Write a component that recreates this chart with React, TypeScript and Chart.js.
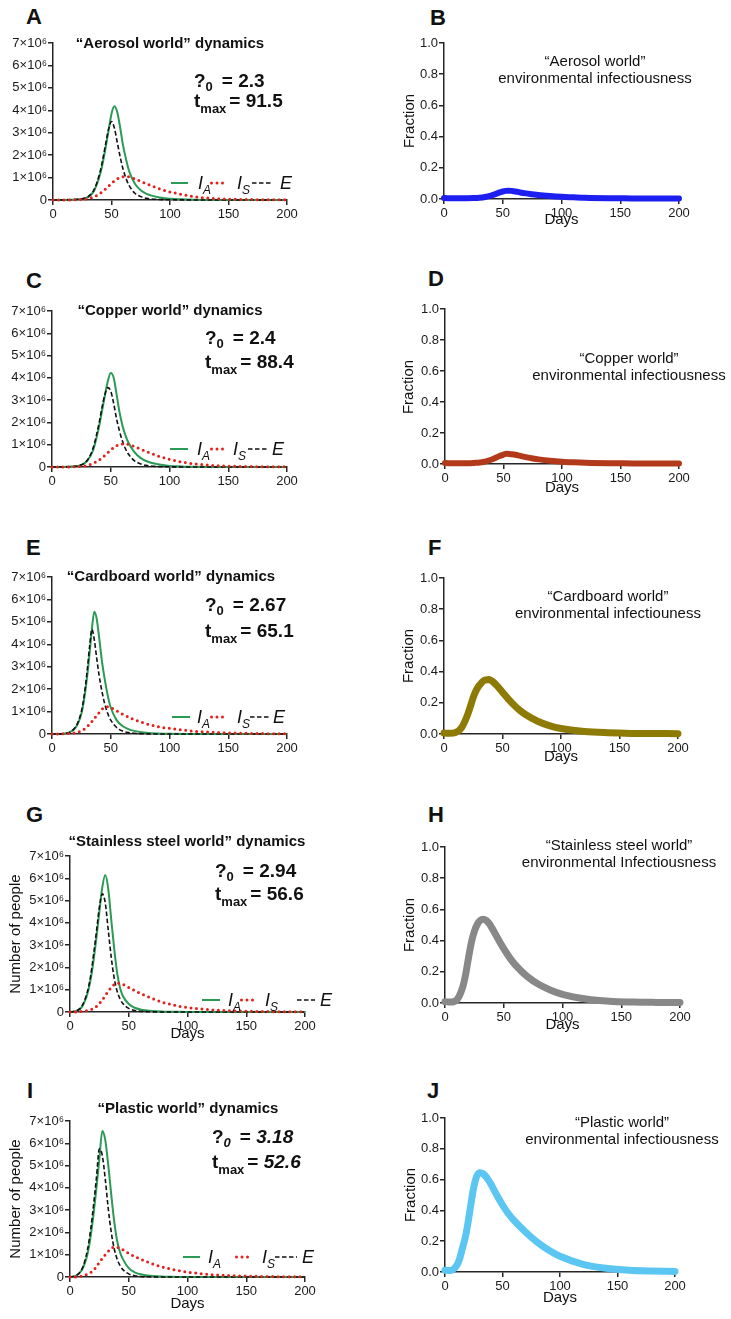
import React, { useEffect, useRef } from "react";
import { Chart, registerables } from "chart.js";
Chart.register(...registerables);

const FONT = '"Liberation Sans", Arial, Helvetica, sans-serif';

// ---------------- data (people in millions, fraction 0..1) ----------------
const aerosolDays = [0, 10, 20, 25, 30, 35, 40, 42.5, 45, 47.5, 50, 52.5, 55, 57.5, 60, 62.5, 65, 70, 75, 80, 90, 100, 110, 120, 140, 160, 180, 200];
const aerosolIA = [0, 0.005, 0.02, 0.05, 0.13, 0.4, 1.1, 1.65, 2.35, 3.1, 3.85, 4.18, 3.9, 3.2, 2.4, 1.8, 1.3, 0.72, 0.43, 0.27, 0.12, 0.055, 0.028, 0.015, 0.005, 0.002, 0.001, 0];
const aerosolE = [0, 0.005, 0.025, 0.06, 0.15, 0.45, 1.2, 1.8, 2.5, 3.15, 3.5, 3.2, 2.55, 1.9, 1.35, 0.95, 0.65, 0.3, 0.15, 0.075, 0.025, 0.01, 0.005, 0.002, 0, 0, 0, 0];
const aerosolIS = [0, 0.002, 0.01, 0.025, 0.06, 0.14, 0.29, 0.39, 0.5, 0.62, 0.74, 0.85, 0.94, 1.0, 1.04, 1.05, 1.03, 0.94, 0.83, 0.72, 0.52, 0.36, 0.25, 0.15, 0.06, 0.028, 0.013, 0.006];
const aerosolEnv = [0.006, 0.005, 0.005, 0.006, 0.008, 0.013, 0.022, 0.028, 0.035, 0.042, 0.048, 0.052, 0.053, 0.052, 0.049, 0.046, 0.042, 0.036, 0.031, 0.026, 0.019, 0.014, 0.011, 0.008, 0.005, 0.004, 0.003, 0.003];

const copperDays = [0, 10, 20, 25, 30, 35, 40, 42.5, 45, 47.5, 50, 52.5, 55, 57.5, 60, 62.5, 65, 70, 75, 80, 90, 100, 110, 120, 140, 160, 180, 200];
const copperIA = [0, 0.005, 0.03, 0.09, 0.27, 0.75, 1.8, 2.5, 3.2, 3.85, 4.22, 4.0, 3.25, 2.45, 1.85, 1.42, 1.1, 0.68, 0.42, 0.27, 0.12, 0.05, 0.025, 0.013, 0.004, 0.001, 0, 0];
const copperE = [0, 0.005, 0.03, 0.1, 0.3, 0.85, 1.95, 2.65, 3.25, 3.56, 3.4, 2.85, 2.15, 1.6, 1.15, 0.82, 0.58, 0.29, 0.15, 0.075, 0.022, 0.008, 0.003, 0.001, 0, 0, 0, 0];
const copperIS = [0, 0.002, 0.012, 0.03, 0.07, 0.16, 0.31, 0.41, 0.52, 0.64, 0.76, 0.87, 0.95, 1.0, 1.03, 1.03, 1.01, 0.92, 0.81, 0.7, 0.5, 0.34, 0.23, 0.15, 0.062, 0.027, 0.012, 0.005];
const copperEnv = [0.006, 0.005, 0.005, 0.007, 0.01, 0.017, 0.029, 0.037, 0.046, 0.054, 0.061, 0.066, 0.065, 0.063, 0.06, 0.056, 0.051, 0.043, 0.036, 0.03, 0.021, 0.015, 0.011, 0.008, 0.005, 0.004, 0.003, 0.003];

const cardboardDays = [0, 5, 10, 15, 20, 22.5, 25, 27.5, 30, 32, 34, 36, 38, 40, 42.5, 45, 47.5, 50, 55, 60, 65, 70, 80, 90, 100, 120, 140, 160, 180, 200];
const cardboardIA = [0, 0.003, 0.015, 0.07, 0.28, 0.52, 0.9, 1.6, 2.6, 3.6, 4.7, 5.45, 5.15, 4.35, 3.25, 2.4, 1.7, 1.18, 0.62, 0.36, 0.22, 0.14, 0.06, 0.025, 0.012, 0.003, 0.001, 0, 0, 0];
const cardboardE = [0, 0.003, 0.016, 0.08, 0.31, 0.58, 1.0, 1.75, 2.85, 3.9, 4.67, 4.2, 3.4, 2.65, 1.9, 1.32, 0.9, 0.62, 0.29, 0.13, 0.06, 0.03, 0.008, 0.002, 0, 0, 0, 0, 0, 0];
const cardboardIS = [0, 0.002, 0.008, 0.025, 0.05, 0.09, 0.14, 0.22, 0.33, 0.44, 0.56, 0.69, 0.82, 0.95, 1.1, 1.2, 1.21, 1.17, 1.03, 0.89, 0.76, 0.64, 0.46, 0.33, 0.25, 0.13, 0.068, 0.034, 0.018, 0.01];
const cardboardEnv = [0.006, 0.005, 0.01, 0.04, 0.12, 0.175, 0.235, 0.28, 0.31, 0.328, 0.342, 0.347, 0.35, 0.344, 0.33, 0.312, 0.29, 0.268, 0.224, 0.185, 0.151, 0.123, 0.082, 0.054, 0.035, 0.016, 0.008, 0.004, 0.003, 0.002];

const steelDays = [0, 5, 10, 15, 17.5, 20, 22.5, 25, 27.5, 30, 32.5, 35, 37.5, 40, 42.5, 45, 50, 55, 60, 70, 80, 90, 100, 120, 140, 160, 180, 200];
const steelIA = [0, 0.04, 0.22, 0.85, 1.45, 2.3, 3.35, 4.5, 5.6, 6.15, 5.55, 4.2, 2.9, 1.8, 1.1, 0.72, 0.36, 0.19, 0.11, 0.04, 0.015, 0.006, 0.002, 0.001, 0, 0, 0, 0];
const steelE = [0, 0.05, 0.25, 0.95, 1.6, 2.55, 3.6, 4.7, 5.3, 4.9, 3.7, 2.5, 1.55, 0.95, 0.6, 0.38, 0.16, 0.07, 0.03, 0.008, 0.002, 0, 0, 0, 0, 0, 0, 0];
const steelIS = [0, 0.005, 0.03, 0.06, 0.1, 0.16, 0.25, 0.38, 0.54, 0.74, 0.93, 1.09, 1.22, 1.29, 1.28, 1.24, 1.1, 0.96, 0.83, 0.61, 0.42, 0.29, 0.2, 0.1, 0.05, 0.025, 0.012, 0.006];
const steelEnv = [0.008, 0.006, 0.02, 0.1, 0.18, 0.29, 0.39, 0.46, 0.505, 0.53, 0.537, 0.53, 0.51, 0.48, 0.447, 0.413, 0.348, 0.291, 0.243, 0.17, 0.118, 0.082, 0.056, 0.026, 0.011, 0.006, 0.004, 0.003];

const plasticDays = [0, 5, 10, 12.5, 15, 17.5, 20, 22.5, 25, 27.5, 30, 32.5, 35, 37.5, 40, 42.5, 45, 50, 55, 60, 70, 80, 90, 100, 120, 140, 160, 180, 200];
const plasticIA = [0, 0.05, 0.3, 0.6, 1.05, 1.8, 2.8, 4.0, 5.3, 6.55, 6.15, 5.05, 3.75, 2.55, 1.65, 1.12, 0.8, 0.4, 0.21, 0.12, 0.04, 0.014, 0.005, 0.002, 0, 0, 0, 0, 0];
const plasticE = [0, 0.06, 0.34, 0.7, 1.25, 2.1, 3.2, 4.45, 5.75, 5.45, 4.4, 3.1, 2.05, 1.3, 0.82, 0.52, 0.33, 0.14, 0.06, 0.025, 0.006, 0.001, 0, 0, 0, 0, 0, 0, 0];
const plasticIS = [0, 0.005, 0.04, 0.08, 0.13, 0.2, 0.3, 0.47, 0.66, 0.84, 1.0, 1.15, 1.27, 1.35, 1.34, 1.29, 1.22, 1.06, 0.92, 0.8, 0.59, 0.43, 0.31, 0.22, 0.11, 0.055, 0.027, 0.013, 0.006];
const plasticEnv = [0.012, 0.01, 0.04, 0.08, 0.15, 0.22, 0.32, 0.44, 0.55, 0.62, 0.645, 0.64, 0.625, 0.6, 0.57, 0.535, 0.5, 0.435, 0.38, 0.335, 0.26, 0.195, 0.143, 0.102, 0.05, 0.024, 0.011, 0.006, 0.004];

const dayTicks = [0, 50, 100, 150, 200];
const peopleTicks = [0, 1, 2, 3, 4, 5, 6, 7];
const fractionTicks = [0, 0.2, 0.4, 0.6, 0.8, 1.0];

// ---------------- styles ----------------
const GREEN = "#2a9a55";
const RED = "#e3211c";
const AXIS = "#262626";

type R = { l: number; t: number; r: number; b: number };

function pts(days: number[], vals: number[]) {
  return days.map((d, i) => ({ x: d, y: vals[i] }));
}

function dynamicsSets(days: number[], ia: number[], is: number[], e: number[]) {
  return [
    { data: pts(days, is), borderColor: RED, borderWidth: 3, borderDash: [0, 5.5], borderCapStyle: "round", clip: false },
    { data: pts(days, e), borderColor: "#111", borderWidth: 1.6, borderDash: [4.5, 2.5], clip: false },
    { data: pts(days, ia), borderColor: GREEN, borderWidth: 2, clip: false },
  ];
}

function envSets(days: number[], env: number[], color: string, w: number) {
  return [
    { data: pts(days, env), borderColor: color, borderWidth: w, borderCapStyle: "round", borderJoinStyle: "round", clip: false },
  ];
}

function PlotCanvas({ rect, canvasLeft, people, datasets }: { rect: R; canvasLeft: number; people: boolean; datasets: any[] }) {
  const ref = useRef<HTMLCanvasElement>(null);
  const padTop = 12, padRight = 22, xAxisH = 34;
  const yAxisW = rect.l - canvasLeft;
  const W = yAxisW + rect.r - rect.l + padRight;
  const H = padTop + rect.b - rect.t + xAxisH;
  useEffect(() => {
    const yTicks = people ? peopleTicks : fractionTicks;
    const grid = { drawOnChartArea: false, drawTicks: true, tickLength: 5, color: AXIS, lineWidth: 1.5 };
    const border = { display: true, color: AXIS, width: 1.5 };
    const tickFont = { family: FONT, size: 13 };
    const chart = new Chart(ref.current as HTMLCanvasElement, {
      type: "line",
      data: { datasets: datasets as any },
      options: {
        animation: false,
        responsive: false,
        devicePixelRatio: 1,
        events: [],
        layout: { padding: { top: padTop, right: padRight, left: 0, bottom: 0 } },
        plugins: { legend: { display: false }, tooltip: { enabled: false }, title: { display: false } },
        elements: { point: { radius: 0, hoverRadius: 0 }, line: { cubicInterpolationMode: "monotone", fill: false } },
        scales: {
          x: {
            type: "linear",
            min: 0,
            max: 200,
            afterBuildTicks: (s: any) => { s.ticks = dayTicks.map((v) => ({ value: v })); },
            afterFit: (s: any) => { s.height = xAxisH; },
            ticks: { autoSkip: false, maxRotation: 0, minRotation: 0, padding: 2, color: "#1a1a1a", font: tickFont },
            grid,
            border,
          },
          y: {
            type: "linear",
            min: 0,
            max: people ? 7 : 1,
            afterBuildTicks: (s: any) => { s.ticks = yTicks.map((v) => ({ value: v })); },
            afterFit: (s: any) => { s.width = yAxisW; },
            ticks: {
              autoSkip: false,
              padding: 1,
              color: "#1a1a1a",
              font: tickFont,
              callback: (v: any) => (people ? (Number(v) === 0 ? "0" : `${v}×10⁶`) : Number(v).toFixed(1)),
            },
            grid,
            border,
          },
        },
      } as any,
    });
    return () => chart.destroy();
  }, []);
  return (
    <canvas
      ref={ref}
      width={W}
      height={H}
      style={{ position: "absolute", left: canvasLeft, top: rect.t - padTop, width: W, height: H, display: "block" }}
    />
  );
}

// ---------------- text helpers ----------------
function T({ x, y, size, bold, italic, center, children }: any) {
  return (
    <div
      style={{
        position: "absolute",
        left: x,
        top: y - 0.85 * size,
        fontFamily: FONT,
        fontSize: size,
        lineHeight: `${size}px`,
        fontWeight: bold ? 700 : 400,
        fontStyle: italic ? "italic" : "normal",
        whiteSpace: "nowrap",
        color: "#111",
        transform: center ? "translateX(-50%)" : undefined,
      }}
    >
      {children}
    </div>
  );
}

function Sub({ size, off, italic, children }: any) {
  return <span style={{ fontSize: size, position: "relative", top: off, fontStyle: italic ? "italic" : undefined }}>{children}</span>;
}

function VT({ cx, cy, size, children }: any) {
  return (
    <div
      style={{
        position: "absolute",
        left: cx,
        top: cy,
        fontFamily: FONT,
        fontSize: size,
        lineHeight: `${size}px`,
        whiteSpace: "nowrap",
        color: "#111",
        transform: "translate(-50%, -50%) rotate(-90deg)",
      }}
    >
      {children}
    </div>
  );
}

function Stats({ x, y1, y2, r0, tmax, it }: any) {
  return (
    <>
      <T x={x} y={y1} size={19} bold>
        ?<Sub size={13} off={4} italic={it}>0</Sub>
        <span style={{ marginLeft: 9 }}>= </span>
        <span style={{ fontStyle: it ? "italic" : "normal" }}>{r0}</span>
      </T>
      <T x={x} y={y2} size={19} bold>
        t<Sub size={13} off={6}>max</Sub>
        <span style={{ marginLeft: 3 }}>= </span>
        <span style={{ fontStyle: it ? "italic" : "normal" }}>{tmax}</span>
      </T>
    </>
  );
}

function Sample({ x1, x2, y, kind }: any) {
  const w = x2 - x1;
  let line;
  if (kind === "g") line = <line x1={0} y1={4} x2={w} y2={4} stroke={GREEN} strokeWidth={2} />;
  else if (kind === "r") line = <line x1={1.5} y1={4} x2={w} y2={4} stroke={RED} strokeWidth={3} strokeDasharray="0 5.5" strokeLinecap="round" />;
  else line = <line x1={0} y1={4} x2={w} y2={4} stroke="#111" strokeWidth={1.6} strokeDasharray="4.5 2.5" />;
  return (
    <svg style={{ position: "absolute", left: x1, top: y - 4 }} width={w} height={8}>
      {line}
    </svg>
  );
}

function Legend({ y, p }: { y: number; p: number[] }) {
  const ly = y - 6;
  return (
    <>
      <Sample x1={p[0]} x2={p[1]} y={ly} kind="g" />
      <T x={p[2]} y={y} size={18} italic>I<Sub size={12} off={5}>A</Sub></T>
      <Sample x1={p[3]} x2={p[4]} y={ly} kind="r" />
      <T x={p[5]} y={y} size={18} italic>I<Sub size={12} off={5}>S</Sub></T>
      <Sample x1={p[6]} x2={p[7]} y={ly} kind="k" />
      <T x={p[8]} y={y} size={18} italic>E</T>
    </>
  );
}

// ---------------- layout ----------------
const rA: R = { l: 53, t: 43, r: 287, b: 200 };
const rB: R = { l: 444, t: 43, r: 679, b: 199 };
const rC: R = { l: 52, t: 311, r: 287, b: 467 };
const rD: R = { l: 445, t: 309, r: 679, b: 464 };
const rE: R = { l: 52, t: 577, r: 287, b: 734 };
const rF: R = { l: 444, t: 578, r: 678, b: 734 };
const rG: R = { l: 70, t: 856, r: 305, b: 1012 };
const rH: R = { l: 445, t: 847, r: 680, b: 1003 };
const rI: R = { l: 70, t: 1121, r: 305, b: 1277 };
const rJ: R = { l: 445, t: 1118, r: 675, b: 1272 };

const RL = 362;

export default function App() {
  const mid = (r: R) => (r.t + r.b) / 2;
  const cx = (r: R) => (r.l + r.r) / 2;
  return (
    <div style={{ position: "absolute", left: 0, top: 0, width: 731, height: 1319, background: "#fff", overflow: "hidden" }}>
      <PlotCanvas rect={rA} canvasLeft={0} people datasets={dynamicsSets(aerosolDays, aerosolIA, aerosolIS, aerosolE)} />
      <PlotCanvas rect={rC} canvasLeft={0} people datasets={dynamicsSets(copperDays, copperIA, copperIS, copperE)} />
      <PlotCanvas rect={rE} canvasLeft={0} people datasets={dynamicsSets(cardboardDays, cardboardIA, cardboardIS, cardboardE)} />
      <PlotCanvas rect={rG} canvasLeft={0} people datasets={dynamicsSets(steelDays, steelIA, steelIS, steelE)} />
      <PlotCanvas rect={rI} canvasLeft={0} people datasets={dynamicsSets(plasticDays, plasticIA, plasticIS, plasticE)} />
      <PlotCanvas rect={rB} canvasLeft={RL} people={false} datasets={envSets(aerosolDays, aerosolEnv, "#1c1ff0", 6)} />
      <PlotCanvas rect={rD} canvasLeft={RL} people={false} datasets={envSets(copperDays, copperEnv, "#b3391b", 6)} />
      <PlotCanvas rect={rF} canvasLeft={RL} people={false} datasets={envSets(cardboardDays, cardboardEnv, "#8e7b06", 7)} />
      <PlotCanvas rect={rH} canvasLeft={RL} people={false} datasets={envSets(steelDays, steelEnv, "#888888", 7)} />
      <PlotCanvas rect={rJ} canvasLeft={RL} people={false} datasets={envSets(plasticDays, plasticEnv, "#5cc6f2", 7)} />

      {/* panel letters */}
      <T x={26} y={25} size={22} bold>A</T>
      <T x={430} y={26} size={22} bold>B</T>
      <T x={26} y={289} size={22} bold>C</T>
      <T x={428} y={287} size={22} bold>D</T>
      <T x={26} y={556} size={22} bold>E</T>
      <T x={428} y={556} size={22} bold>F</T>
      <T x={26} y={823} size={22} bold>G</T>
      <T x={428} y={823} size={22} bold>H</T>
      <T x={27} y={1099} size={22} bold>I</T>
      <T x={427} y={1099} size={22} bold>J</T>

      {/* dynamics titles */}
      <T x={170} y={48} size={15} bold center>“Aerosol world” dynamics</T>
      <T x={170} y={315} size={15} bold center>“Copper world” dynamics</T>
      <T x={171} y={581} size={15} bold center>“Cardboard world” dynamics</T>
      <T x={187} y={846} size={15} bold center>“Stainless steel world” dynamics</T>
      <T x={188} y={1113} size={15} bold center>“Plastic world” dynamics</T>

      <Stats x={194} y1={87} y2={107} r0="2.3" tmax="91.5" />
      <Stats x={205} y1={344} y2={368} r0="2.4" tmax="88.4" />
      <Stats x={205} y1={611} y2={637} r0="2.67" tmax="65.1" />
      <Stats x={215} y1={877} y2={900} r0="2.94" tmax="56.6" />
      <Stats x={212} y1={1143} y2={1168} r0="3.18" tmax="52.6" it />

      <Legend y={189} p={[171, 188, 198, 210, 226, 237, 252, 272, 280]} />
      <Legend y={455} p={[170, 188, 197, 210, 224, 233, 248, 268, 272]} />
      <Legend y={723} p={[172, 190, 197, 210, 226, 237, 250, 270, 273]} />
      <Legend y={1006} p={[202, 220, 228, 240, 254, 265, 297, 315, 320]} />
      <Legend y={1263} p={[183, 200, 208, 235, 251, 262, 275, 297, 302]} />

      {/* environmental titles */}
      <T x={595} y={66} size={15} center>“Aerosol world”</T>
      <T x={595} y={83} size={15} center>environmental infectiousness</T>
      <T x={629} y={363} size={15} center>“Copper world”</T>
      <T x={629} y={380} size={15} center>environmental infectiousness</T>
      <T x={608} y={601} size={15} center>“Cardboard world”</T>
      <T x={608} y={618} size={15} center>environmental infectiouness</T>
      <T x={619} y={850} size={15} center>“Stainless steel world”</T>
      <T x={619} y={867} size={15} center>environmental Infectiousness</T>
      <T x={622} y={1127} size={15} center>“Plastic world”</T>
      <T x={622} y={1144} size={15} center>environmental infectiousness</T>

      {/* axis titles */}
      <VT cx={408} cy={mid(rB)} size={15}>Fraction</VT>
      <VT cx={407} cy={mid(rD)} size={15}>Fraction</VT>
      <VT cx={407} cy={mid(rF)} size={15}>Fraction</VT>
      <VT cx={408} cy={mid(rH)} size={15}>Fraction</VT>
      <VT cx={409} cy={mid(rJ)} size={15}>Fraction</VT>
      <VT cx={14} cy={mid(rG)} size={15}>Number of people</VT>
      <VT cx={14} cy={mid(rI)} size={15}>Number of people</VT>

      <T x={cx(rB)} y={224} size={15} center>Days</T>
      <T x={cx(rD)} y={492} size={15} center>Days</T>
      <T x={cx(rF)} y={761} size={15} center>Days</T>
      <T x={cx(rH)} y={1029} size={15} center>Days</T>
      <T x={cx(rJ)} y={1302} size={15} center>Days</T>
      <T x={cx(rG)} y={1038} size={15} center>Days</T>
      <T x={cx(rI)} y={1308} size={15} center>Days</T>
    </div>
  );
}
